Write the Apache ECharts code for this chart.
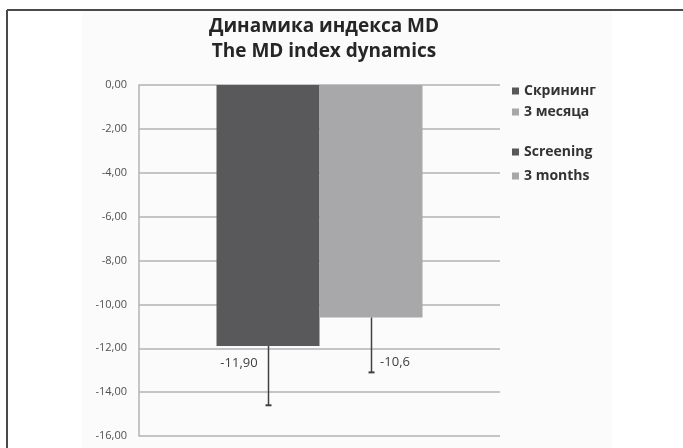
<!DOCTYPE html>
<html>
<head>
<meta charset="utf-8">
<script src="https://cdn.jsdelivr.net/npm/echarts@6/dist/echarts.min.js"></script>
<style>
  html, body { margin: 0; padding: 0; background: #ffffff; }
  #chart { width: 683px; height: 448px; }
</style>
</head>
<body>
<div id="chart"></div>
<script>
// Chart data
const categories = [''];
const screeningValues = [-11.9];
const months3Values = [-10.6];
const screeningErrors = [2.7];
const months3Errors = [2.5];
const screeningLabels = ['-11,90'];
const months3Labels = ['-10,6'];
const legendRu = ['Скрининг', '3 месяца'];
const legendEn = ['Screening', '3 months'];
const titleLines = ['Динамика индекса MD', 'The MD index dynamics'];

const DARK = '#59595b';
const LIGHT = '#a8a8aa';
const FONT = '"Open Sans", "Noto Sans", sans-serif';
const BAR_W = 103;

const chart = echarts.init(document.getElementById('chart'), null, { renderer: 'canvas' });

// Downward error whisker with a small cap, drawn at a bar's centre
function errorSeries(values, errors, offset) {
  return {
    type: 'custom',
    silent: true,
    z: 5,
    data: values.map((v, i) => [i, v, errors[i]]),
    renderItem: function (params, api) {
      const start = api.coord([api.value(0), api.value(1)]);
      const end = api.coord([api.value(0), api.value(1) - api.value(2)]);
      const x = Math.round(start[0] + offset) + 0.5;
      const style = { stroke: '#404040', lineWidth: 1.5 };
      return {
        type: 'group',
        children: [
          { type: 'line', shape: { x1: x, y1: start[1], x2: x, y2: end[1] }, style },
          { type: 'line', shape: { x1: x - 3, y1: end[1], x2: x + 3, y2: end[1] }, style: { stroke: '#404040', lineWidth: 2 } }
        ]
      };
    }
  };
}

const legendText = { fontFamily: FONT, fontSize: 14, fontWeight: 'bold', color: '#333333' };

chart.setOption({
  animation: false,
  backgroundColor: '#ffffff',
  graphic: [
    { type: 'rect', shape: { x: 82, y: 11, width: 530, height: 437 }, style: { fill: '#fbfbfb' }, z: -10 },
    { type: 'line', shape: { x1: 7, y1: 10, x2: 683, y2: 10 }, style: { stroke: '#4a4a4a', lineWidth: 2 } },
    { type: 'line', shape: { x1: 7, y1: 10, x2: 7, y2: 448 }, style: { stroke: '#4a4a4a', lineWidth: 2 } }
  ],
  title: {
    text: titleLines.join('\n'),
    left: 319,
    top: 9,
    textAlign: 'center',
    textStyle: { fontFamily: FONT, fontSize: 19, fontWeight: 'bold', color: '#262626', lineHeight: 25 }
  },
  legend: [
    {
      data: legendRu, orient: 'vertical', left: 507, top: 79, icon: 'rect',
      itemWidth: 7, itemHeight: 7, itemGap: 7, textStyle: legendText
    },
    {
      data: legendEn, orient: 'vertical', left: 507, top: 140, icon: 'rect',
      itemWidth: 7, itemHeight: 7, itemGap: 10, textStyle: legendText
    }
  ],
  grid: { left: 139, right: 183, top: 85, bottom: 12 },
  xAxis: {
    type: 'category',
    data: categories,
    axisLine: { show: false },
    axisTick: { show: false },
    axisLabel: { show: false }
  },
  yAxis: {
    type: 'value',
    min: -16,
    max: 0,
    interval: 2,
    axisLine: { show: true, lineStyle: { color: '#b3b3b3', width: 1.5 } },
    axisTick: { show: false },
    splitLine: { lineStyle: { color: '#b3b3b3', width: 1.5 } },
    axisLabel: {
      margin: 12,
      fontFamily: FONT,
      fontSize: 11,
      color: '#505050',
      formatter: v => v.toFixed(2).replace('.', ',')
    }
  },
  series: [
    {
      name: legendRu[0], type: 'bar', data: screeningValues, barWidth: BAR_W, barGap: '0%',
      itemStyle: { color: DARK },
      label: {
        show: true, position: 'bottom', distance: 11, offset: [-29, 0],
        fontFamily: FONT, fontSize: 13, color: '#404040',
        formatter: p => screeningLabels[p.dataIndex]
      }
    },
    {
      name: legendRu[1], type: 'bar', data: months3Values, barWidth: BAR_W, barGap: '0%',
      itemStyle: { color: LIGHT },
      label: {
        show: true, position: 'bottom', distance: 11, offset: [24, 27],
        fontFamily: FONT, fontSize: 13, color: '#404040',
        formatter: p => months3Labels[p.dataIndex]
      }
    },
    { name: legendEn[0], type: 'line', data: [], itemStyle: { color: DARK }, lineStyle: { color: DARK } },
    { name: legendEn[1], type: 'line', data: [], itemStyle: { color: LIGHT }, lineStyle: { color: LIGHT } },
    errorSeries(screeningValues, screeningErrors, -BAR_W / 2),
    errorSeries(months3Values, months3Errors, BAR_W / 2)
  ]
});
</script>
</body>
</html>
